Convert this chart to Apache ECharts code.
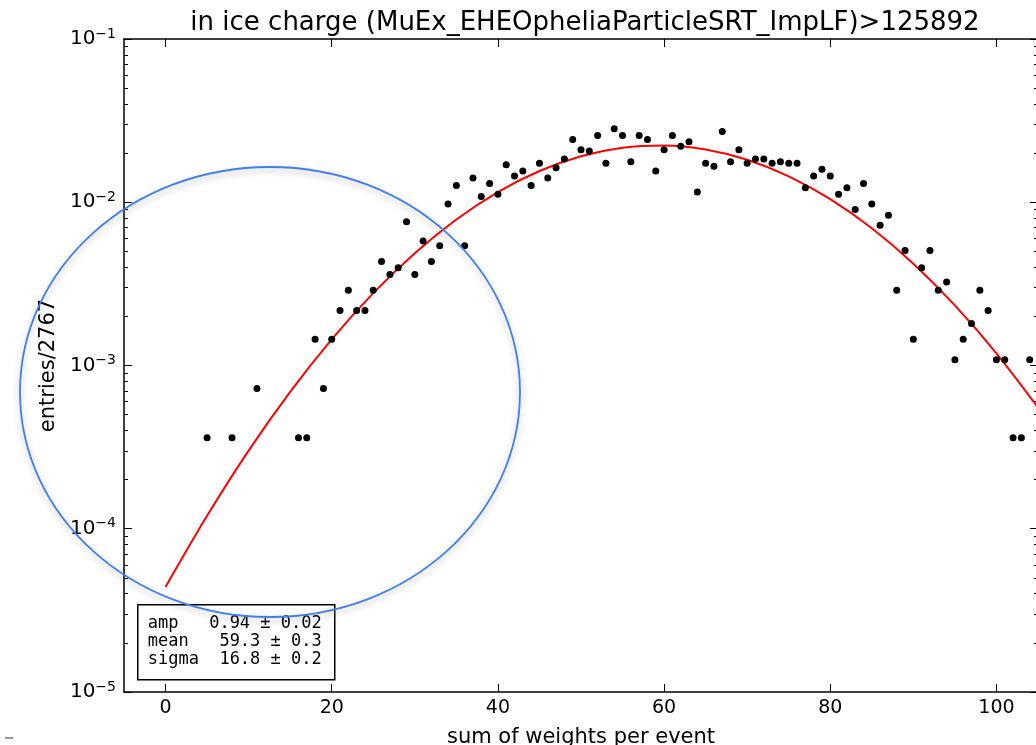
<!DOCTYPE html>
<html>
<head>
<meta charset="utf-8">
<title>in ice charge</title>
<script src="https://cdn.jsdelivr.net/npm/echarts@6/dist/echarts.min.js"></script>
<style>
  html, body { margin: 0; padding: 0; background: #fff; }
  #chart { width: 1036px; height: 745px; }
</style>
</head>
<body>
<div id="chart"></div>
<script>
// histogram: bin position and raw entries, normalised by total entries
const totalEntries = 2767;
const binX = [
  5, 8, 11, 16, 17, 18, 19, 20, 21, 22, 23, 24, 25, 26, 27, 28, 29, 30, 31, 32,
  33, 34, 35, 36, 37, 38, 39, 40, 41, 42, 43, 44, 45, 46, 47, 48, 49, 50, 51, 52,
  53, 54, 55, 56, 57, 58, 59, 60, 61, 62, 63, 64, 65, 66, 67, 68, 69, 70, 71, 72,
  73, 74, 75, 76, 77, 78, 79, 80, 81, 82, 83, 84, 85, 86, 87, 88, 89, 90, 91, 92,
  93, 94, 95, 96, 97, 98, 99, 100, 101, 102, 103, 104
];
const entries = [
  1, 1, 2, 1, 1, 4, 2, 4, 6, 8, 6, 6, 8, 12, 10, 11, 21, 10, 16, 12,
  15, 27, 35, 15, 39, 30, 36, 31, 47, 40, 43, 35, 48, 39, 45, 51, 67, 58, 57, 71,
  48, 78, 71, 49, 71, 67, 43, 58, 71, 61, 65, 32, 48, 46, 75, 49, 58, 48, 51, 51,
  48, 49, 48, 48, 34, 40, 44, 40, 31, 34, 25, 36, 27, 20, 23, 8, 14, 4, 11, 14,
  8, 9, 3, 4, 5, 8, 6, 3, 3, 1, 1, 3
];

// gaussian fit curve
const fitX = [0, 5, 10, 15, 20, 25, 30, 35, 40, 45, 50, 55, 60, 65, 70, 75, 80, 85, 90, 95, 100, 105];
const fitY = [
  4.40e-5, 1.20e-4, 3.01e-4, 6.90e-4, 1.447e-3, 2.777e-3, 4.878e-3, 7.841e-3,
  1.1538e-2, 1.5538e-2, 1.9151e-2, 2.1603e-2, 2.2303e-2, 2.1074e-2, 1.8224e-2,
  1.4424e-2, 1.0449e-2, 6.928e-3, 4.203e-3, 2.335e-3, 1.187e-3, 5.52e-4
];

const xTicks = [0, 20, 40, 60, 80, 100];
const fitText = [
  'amp   0.94 ± 0.02',
  'mean   59.3 ± 0.3',
  'sigma  16.8 ± 0.2'
];

const chart = echarts.init(document.getElementById('chart'));

const pts = binX.map((x, i) => [x, entries[i] / totalEntries]);
const curve = fitX.map((x, i) => [x, fitY[i]]);

const FONT = 'DejaVu Sans';
const axisLine = { show: true, onZero: false, lineStyle: { color: '#000', width: 1.5 } };

const xBase = {
  type: 'value',
  min: -5,
  max: 105,
  splitLine: { show: false },
  axisLine: axisLine
};
const yBase = {
  type: 'log',
  logBase: 10,
  min: 1e-5,
  max: 1e-1,
  splitLine: { show: false },
  axisLine: axisLine,
  axisTick: { show: true, inside: true, length: 8, lineStyle: { color: '#000', width: 1 } },
  minorTick: { show: true, splitNumber: 9, length: 4, lineStyle: { color: '#000', width: 1 } }
};

chart.setOption({
  animation: false,
  backgroundColor: '#fff',
  title: {
    text: 'in ice charge (MuEx_EHEOpheliaParticleSRT_ImpLF)>125892',
    left: 580,
    textAlign: 'center',
    top: 5,
    textStyle: { fontFamily: FONT, fontSize: 26, fontWeight: 'normal', color: '#000' }
  },
  grid: { left: 124, top: 39, width: 914, height: 653, outerBoundsMode: 'none', containLabel: false },
  xAxis: [
    {
      ...xBase,
      position: 'bottom',
      name: 'sum of weights per event',
      nameLocation: 'middle',
      nameGap: 35,
      nameTextStyle: { fontFamily: FONT, fontSize: 21, color: '#000' },
      axisTick: { show: true, inside: true, length: 8, customValues: xTicks, lineStyle: { color: '#000' } },
      axisLabel: { customValues: xTicks, fontFamily: FONT, fontSize: 19, color: '#000', margin: 7 }
    },
    {
      ...xBase,
      position: 'top',
      axisTick: { show: true, inside: true, length: 8, customValues: xTicks, lineStyle: { color: '#000' } },
      axisLabel: { show: false }
    }
  ],
  yAxis: [
    {
      ...yBase,
      position: 'left',
      name: 'entries/2767',
      nameLocation: 'middle',
      nameGap: 54,
      nameTextStyle: { fontFamily: FONT, fontSize: 21, color: '#000' },
      axisLabel: {
        margin: 8,
        formatter: v => '{b|10}{s|' + String(Math.round(Math.log10(v))).replace('-', '\u2212') + '}',
        rich: {
          b: { fontFamily: FONT, fontSize: 20, color: '#000' },
          s: { fontFamily: FONT, fontSize: 14, color: '#000', verticalAlign: 'top', padding: [0, 0, 10, 0] }
        }
      }
    },
    {
      ...yBase,
      position: 'right',
      axisLabel: { show: false }
    }
  ],
  series: [
    {
      name: 'fit',
      type: 'line',
      data: curve,
      smooth: 0.3,
      showSymbol: false,
      lineStyle: { color: '#ff0000', width: 2 },
      z: 2
    },
    {
      name: 'data',
      type: 'scatter',
      data: pts,
      symbolSize: 7,
      itemStyle: { color: '#000', opacity: 1 },
      z: 3
    }
  ],
  graphic: [
    {
      type: 'group',
      left: 137,
      top: 604,
      z: 10,
      children: [
        {
          type: 'rect',
          shape: { x: 0, y: 0, width: 197, height: 75 },
          style: { fill: '#fff', stroke: '#000', lineWidth: 1.5 }
        },
        {
          type: 'text',
          x: 10,
          y: 10,
          style: {
            text: fitText.join('\n'),
            font: '17px "DejaVu Sans Mono"',
            lineHeight: 18,
            fill: '#000'
          }
        }
      ]
    },
    {
      type: 'ellipse',
      z: 20,
      shape: { cx: 270, cy: 392, rx: 250, ry: 225 },
      style: {
        fill: 'none',
        stroke: '#3f7ff2',
        lineWidth: 1.8,
        shadowBlur: 7,
        shadowOffsetY: 3,
        shadowColor: 'rgba(0,0,0,0.3)'
      }
    },
    {
      type: 'rect',
      shape: { x: 5, y: 737, width: 8, height: 2 },
      style: { fill: '#999' }
    }
  ]
});
</script>
</body>
</html>
